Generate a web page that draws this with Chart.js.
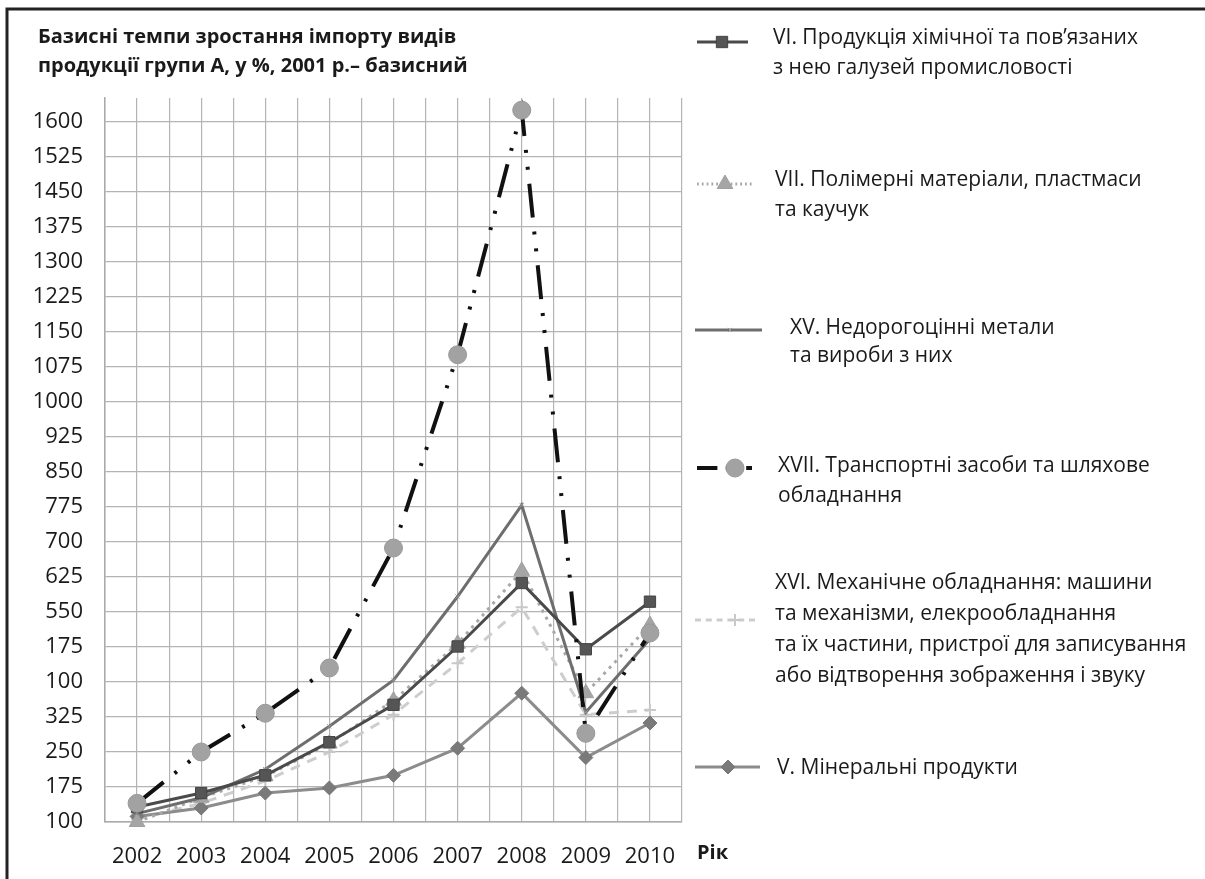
<!DOCTYPE html>
<html>
<head>
<meta charset="utf-8">
<script src="https://cdn.jsdelivr.net/npm/chart.js@4"></script>
<style>
  html, body { margin: 0; padding: 0; background: #fff; }
  #wrap { position: relative; width: 1205px; height: 879px; }
</style>
</head>
<body>
<div id="wrap"><canvas id="chart" width="1205" height="879"></canvas></div>
<script>
// years on the x axis
var years = [2002, 2003, 2004, 2005, 2006, 2007, 2008, 2009, 2010];

// y ticks (labels kept as printed in the source)
var yTickValues = [100, 175, 250, 325, 400, 475, 550, 625, 700, 775, 850, 925, 1000, 1075, 1150, 1225, 1300, 1375, 1450, 1525, 1600];
var yTickLabels = ['100', '175', '250', '325', '100', '175', '550', '625', '700', '775', '850', '925', '1000', '1075', '1150', '1225', '1300', '1375', '1450', '1525', '1600'];

// series, % of 2001
var chemVI = [132, 162, 200, 271, 351, 476, 612, 470, 572];
var polymerVII = [100, 152, 198, 268, 360, 482, 638, 376, 522];
var metalsXV = [118, 152, 213, 305, 404, 583, 779, 335, 492];
var transportXVII = [140, 250, 333, 430, 687, 1101, 1625, 290, 505];
var machineryXVI = [106, 140, 188, 250, 330, 440, 560, 330, 340];
var mineralV = [112, 130, 162, 173, 200, 258, 376, 238, 312];

function pts(vals) {
    return years.map(function (yr, i) { return { x: yr, y: vals[i] }; });
}

var FONT = '"Open Sans", "Noto Sans", sans-serif';

var datasets = [
    { label: 'VI', data: pts(chemVI), borderColor: '#4a4a4a', backgroundColor: '#555', borderWidth: 3,
      pointStyle: 'rect', pointRadius: 8, pointBorderWidth: 1, pointBorderColor: '#444', order: 2 },
    { label: 'VII', data: pts(polymerVII), borderColor: '#a8a8a8', backgroundColor: '#a5a5a5', borderWidth: 3,
      borderDash: [3, 5], pointStyle: 'triangle', pointRadius: 9, pointBorderWidth: 1, pointBorderColor: '#a0a0a0', order: 4 },
    { label: 'XV', data: pts(metalsXV), borderColor: '#6e6e6e', backgroundColor: '#6e6e6e', borderWidth: 3,
      pointStyle: 'crossRot', pointRadius: 3, pointBorderWidth: 1, pointBorderColor: '#999', order: 3 },
    { label: 'XVII', data: pts(transportXVII), borderColor: '#111', backgroundColor: '#a2a2a2', borderWidth: 4,
      borderDash: [34, 14, 3, 14, 3, 14], pointStyle: 'circle', pointRadius: 9, pointBorderWidth: 1, pointBorderColor: '#999', order: 1 },
    { label: 'XVI', data: pts(machineryXVI), borderColor: '#cdcdcd', backgroundColor: '#c8c8c8', borderWidth: 3,
      borderDash: [10, 8], pointStyle: 'cross', pointRadius: 6, pointBorderWidth: 2, pointBorderColor: '#c8c8c8', order: 6 },
    { label: 'V', data: pts(mineralV), borderColor: '#8c8c8c', backgroundColor: '#7a7a7a', borderWidth: 3,
      pointStyle: 'rectRot', pointRadius: 7, pointBorderWidth: 1, pointBorderColor: '#777', order: 5 }
];

// legend layout on the right
var legendItems = [
    { ds: 0, y: 42, x0: 697, x1: 748, mx: 722, tx: 773, ty: 38, lh: 30,
      text: ['VI. Продукція хімічної та пов’язаних', 'з нею галузей промисловості'] },
    { ds: 1, y: 184, x0: 697, x1: 752, mx: 725, tx: 775, ty: 180, lh: 30,
      text: ['VII. Полімерні матеріали, пластмаси', 'та каучук'] },
    { ds: 2, y: 330, x0: 695, x1: 762, mx: 730, tx: 790, ty: 328, lh: 28,
      text: ['XV. Недорогоцінні метали', 'та вироби з них'] },
    { ds: 3, y: 468, x0: 697, x1: 752, mx: 735, tx: 778, ty: 466, lh: 30,
      text: ['XVII. Транспортні засоби та шляхове', 'обладнання'] },
    { ds: 4, y: 620, x0: 695, x1: 755, mx: 735, tx: 775, ty: 583, lh: 31,
      text: ['XVI. Механічне обладнання: машини', 'та механізми, елекрообладнання',
             'та їх частини, пристрої для записування', 'або відтворення зображення і звуку'] },
    { ds: 5, y: 767, x0: 695, x1: 760, mx: 728, tx: 777, ty: 768, lh: 30,
      text: ['V. Мінеральні продукти'] }
];

var decor = {
    id: 'decor',
    afterDraw: function (chart) {
        var ctx = chart.ctx;
        ctx.save();
        // frame
        ctx.strokeStyle = '#222';
        ctx.lineWidth = 3;
        ctx.beginPath();
        ctx.moveTo(7, 879); ctx.lineTo(7, 9); ctx.lineTo(1205, 9);
        ctx.stroke();

        // title
        ctx.fillStyle = '#1a1a1a';
        ctx.font = 'bold 20px ' + FONT;
        ctx.textBaseline = 'middle';
        ctx.textAlign = 'left';
        ctx.fillText('Базисні темпи зростання імпорту видів', 38, 37);
        ctx.fillText('продукції групи А, у %, 2001 р.– базисний', 38, 66);
        ctx.fillText('Рік', 697, 853);

        // legend
        legendItems.forEach(function (it) {
            var ds = chart.data.datasets[it.ds];
            ctx.save();
            ctx.strokeStyle = ds.borderColor;
            ctx.lineWidth = ds.borderWidth;
            ctx.setLineDash(ds.borderDash ? ds.borderDash.map(function (d) { return d * 0.6; }) : []);
            ctx.beginPath();
            ctx.moveTo(it.x0, it.y); ctx.lineTo(it.x1, it.y);
            ctx.stroke();
            ctx.setLineDash([]);
            ctx.fillStyle = ds.backgroundColor;
            ctx.strokeStyle = ds.pointBorderColor;
            ctx.lineWidth = ds.pointBorderWidth;
            Chart.helpers.drawPoint(ctx, { pointStyle: ds.pointStyle, radius: ds.pointRadius, borderWidth: ds.pointBorderWidth, rotation: 0 }, it.mx, it.y);
            ctx.restore();

            ctx.fillStyle = '#1a1a1a';
            ctx.font = '21px ' + FONT;
            it.text.forEach(function (line, i) {
                ctx.fillText(line, it.tx, it.ty + i * it.lh);
            });
        });
        ctx.restore();
    }
};

new Chart(document.getElementById('chart'), {
    type: 'line',
    data: { datasets: datasets },
    options: {
        responsive: false,
        animation: false,
        layout: { padding: { top: 98, right: 523, left: 0, bottom: 0 } },
        plugins: { legend: { display: false }, tooltip: { enabled: false } },
        elements: { line: { tension: 0 } },
        datasets: { line: { clip: false } },
        scales: {
            x: {
                type: 'linear',
                min: 2001.5,
                max: 2010.5,
                afterFit: function (s) { s.height = 57; },
                afterBuildTicks: function (s) {
                    var t = [];
                    for (var v = 2001.5; v <= 2010.51; v += 0.5) t.push({ value: v });
                    s.ticks = t;
                },
                grid: { color: '#b4b4b4', lineWidth: 1.2, drawTicks: false },
                border: { color: '#aaa', width: 1.5 },
                ticks: {
                    padding: 22,
                    autoSkip: false,
                    maxRotation: 0,
                    color: '#1a1a1a',
                    font: { family: FONT, size: 22 },
                    callback: function (v) { return Number.isInteger(v) ? String(v) : ''; }
                }
            },
            y: {
                min: 100,
                max: 1651,
                afterFit: function (s) { s.width = 105; },
                afterBuildTicks: function (s) {
                    s.ticks = yTickValues.map(function (v) { return { value: v }; });
                },
                grid: { color: '#b4b4b4', lineWidth: 1.2, drawTicks: false },
                border: { color: '#aaa', width: 1.5 },
                ticks: {
                    padding: 22,
                    color: '#1a1a1a',
                    font: { family: FONT, size: 22 },
                    callback: function (v) {
                        var i = yTickValues.indexOf(v);
                        return i >= 0 ? yTickLabels[i] : '';
                    }
                }
            }
        }
    },
    plugins: [decor]
});
</script>
</body>
</html>
